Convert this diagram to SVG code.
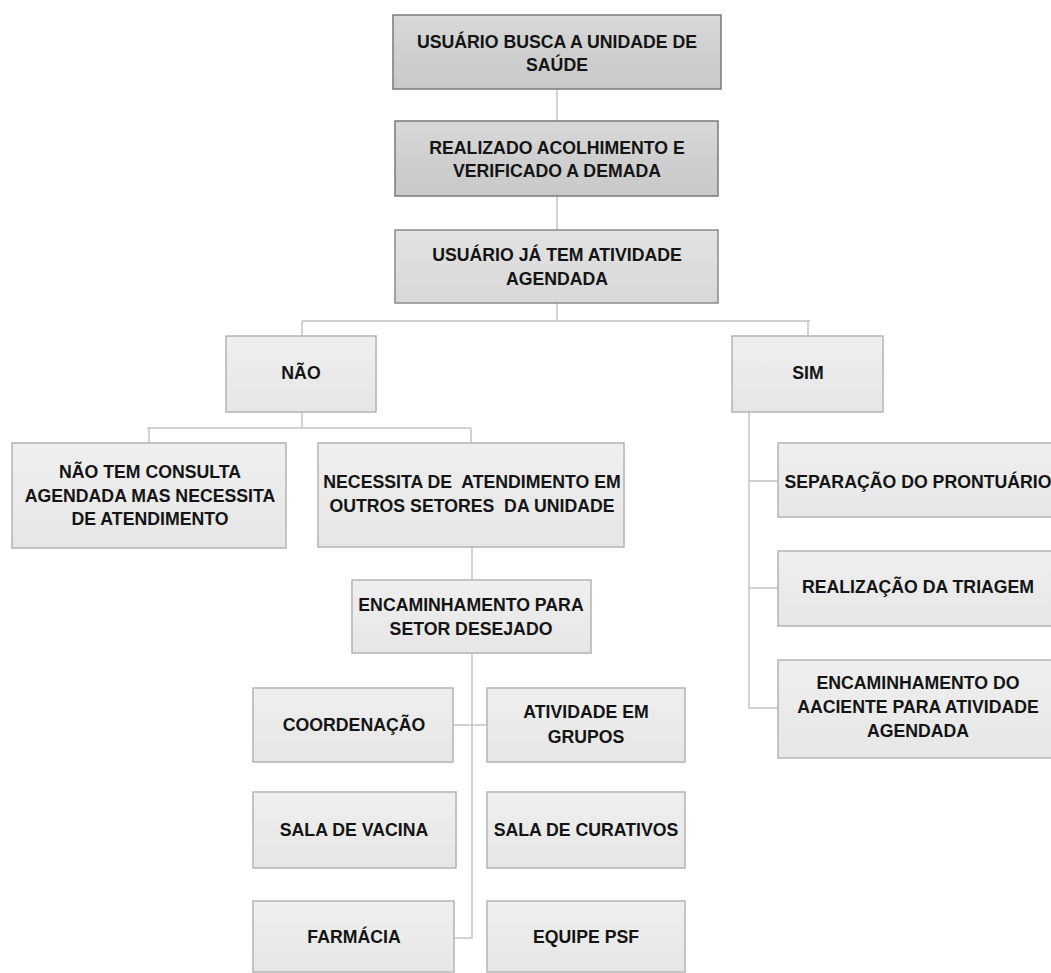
<svg xmlns="http://www.w3.org/2000/svg" width="1051" height="973" viewBox="0 0 1051 973">
<style>
  .t { font-family: "Liberation Sans", Arial, sans-serif; font-weight: bold; font-size: 17.7px; fill: #141414; text-anchor: middle; }
  .dark { fill: url(#gDark); stroke: #7a7a7a; stroke-width: 1.5; }
  .mid { fill: url(#gMid); stroke: #8a8a8a; stroke-width: 1.5; }
  .light { fill: url(#gLight); stroke: #b4b4b4; stroke-width: 1.5; }
  .conn { fill: none; stroke: #c4c4c4; stroke-width: 1.5; }
</style>
<defs>
  <linearGradient id="gDark" x1="0" y1="0" x2="0" y2="1">
    <stop offset="0" stop-color="#d9d9d9"/>
    <stop offset="0.5" stop-color="#cfcfcf"/>
    <stop offset="1" stop-color="#c9c9c9"/>
  </linearGradient>
  <linearGradient id="gMid" x1="0" y1="0" x2="0" y2="1">
    <stop offset="0" stop-color="#e2e2e2"/>
    <stop offset="1" stop-color="#d8d8d8"/>
  </linearGradient>
  <linearGradient id="gLight" x1="0" y1="0" x2="0" y2="1">
    <stop offset="0" stop-color="#efefef"/>
    <stop offset="1" stop-color="#e6e6e6"/>
  </linearGradient>
</defs>
<rect width="1051" height="973" fill="#ffffff"/>

<g id="connectors">
  <path class="conn" d="M557 89 V121"/>
  <path class="conn" d="M557 196 V230"/>
  <path class="conn" d="M557 303 V321 M302 321 H810 M302 321 V336 M808 321 V336"/>
  <path class="conn" d="M302 412 V428 M147 428 H471 M149 428 V443 M471 428 V443"/>
  <path class="conn" d="M472 547 V580"/>
  <path class="conn" d="M472 653 V938 H454 M454 725 H487"/>
  <path class="conn" d="M749 412 V708 H778 M749 481 H778 M749 588 H778"/>
</g>

<g id="n-usuario-busca">
  <rect class="dark" x="393" y="15" width="328" height="74"/>
  <text class="t" x="557" y="48">USUÁRIO BUSCA A UNIDADE DE</text>
  <text class="t" x="557" y="71">SAÚDE</text>
</g>
<g id="n-acolhimento">
  <rect class="dark" x="395" y="121" width="323" height="75"/>
  <text class="t" x="557" y="154">REALIZADO ACOLHIMENTO E</text>
  <text class="t" x="557" y="177">VERIFICADO A DEMADA</text>
</g>
<g id="n-agendada">
  <rect class="mid" x="395" y="230" width="323" height="73"/>
  <text class="t" x="557" y="261">USUÁRIO JÁ TEM ATIVIDADE</text>
  <text class="t" x="557" y="285">AGENDADA</text>
</g>
<g id="n-nao">
  <rect class="light" x="226" y="336" width="150" height="76"/>
  <text class="t" x="301" y="379">NÃO</text>
</g>
<g id="n-sim">
  <rect class="light" x="732" y="336" width="151" height="76"/>
  <text class="t" x="808" y="379">SIM</text>
</g>
<g id="n-nao-tem-consulta">
  <rect class="light" x="12" y="443" width="274" height="105"/>
  <text class="t" x="150" y="478">NÃO TEM CONSULTA</text>
  <text class="t" x="150" y="502">AGENDADA MAS NECESSITA</text>
  <text class="t" x="150" y="525">DE ATENDIMENTO</text>
</g>
<g id="n-necessita">
  <rect class="light" x="318" y="443" width="306" height="104"/>
  <text class="t" x="472" y="488" xml:space="preserve">NECESSITA DE  ATENDIMENTO EM</text>
  <text class="t" x="472" y="512" xml:space="preserve">OUTROS SETORES  DA UNIDADE</text>
</g>
<g id="n-encaminhamento-setor">
  <rect class="light" x="352" y="580" width="239" height="73"/>
  <text class="t" x="471" y="611">ENCAMINHAMENTO PARA</text>
  <text class="t" x="471" y="635">SETOR DESEJADO</text>
</g>
<g id="n-coordenacao">
  <rect class="light" x="253" y="688" width="200" height="74"/>
  <text class="t" x="354" y="731">COORDENAÇÃO</text>
</g>
<g id="n-atividade-grupos">
  <rect class="light" x="487" y="688" width="198" height="74"/>
  <text class="t" x="586" y="718">ATIVIDADE EM</text>
  <text class="t" x="586" y="743">GRUPOS</text>
</g>
<g id="n-sala-vacina">
  <rect class="light" x="253" y="792" width="203" height="76"/>
  <text class="t" x="354" y="836">SALA DE VACINA</text>
</g>
<g id="n-sala-curativos">
  <rect class="light" x="487" y="792" width="198" height="76"/>
  <text class="t" x="586" y="836">SALA DE CURATIVOS</text>
</g>
<g id="n-farmacia">
  <rect class="light" x="253" y="901" width="201" height="71"/>
  <text class="t" x="354" y="943">FARMÁCIA</text>
</g>
<g id="n-equipe-psf">
  <rect class="light" x="487" y="901" width="198" height="71"/>
  <text class="t" x="586" y="943">EQUIPE PSF</text>
</g>
<g id="n-separacao">
  <rect class="light" x="778" y="443" width="280" height="74"/>
  <text class="t" x="918" y="488">SEPARAÇÃO DO PRONTUÁRIO</text>
</g>
<g id="n-triagem">
  <rect class="light" x="778" y="551" width="280" height="75"/>
  <text class="t" x="918" y="593">REALIZAÇÃO DA TRIAGEM</text>
</g>
<g id="n-encaminhamento-paciente">
  <rect class="light" x="778" y="660" width="280" height="98"/>
  <text class="t" x="918" y="689">ENCAMINHAMENTO DO</text>
  <text class="t" x="918" y="713">AACIENTE PARA ATIVIDADE</text>
  <text class="t" x="918" y="737">AGENDADA</text>
</g>
</svg>
